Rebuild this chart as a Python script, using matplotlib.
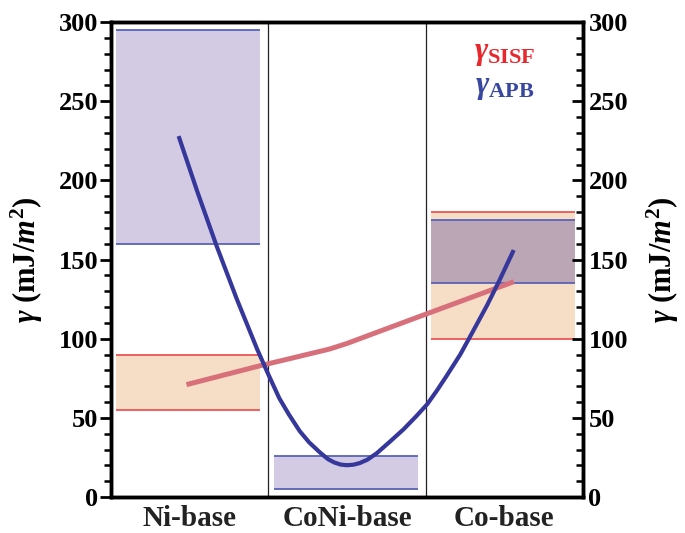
import matplotlib.pyplot as plt
from matplotlib.ticker import MultipleLocator

plt.rcParams['font.family'] = 'Liberation Serif'
plt.rcParams['mathtext.fontset'] = 'custom'
plt.rcParams['mathtext.rm'] = 'Liberation Serif:bold'
plt.rcParams['mathtext.it'] = 'Liberation Serif:italic:bold'
plt.rcParams['mathtext.bf'] = 'Liberation Serif:bold'

categories = ['Ni-base', 'CoNi-base', 'Co-base']

# energy ranges (mJ/m^2), None = not shown
sisf_low = [55, None, 100]
sisf_high = [90, None, 180]
apb_low = [160, 5, 135]
apb_high = [295, 26, 175]

# trend curves
apb_x = [0.43, 0.55, 0.67, 0.80, 0.93, 1.00, 1.07, 1.13, 1.20, 1.26,
         1.33, 1.38, 1.42, 1.46, 1.50, 1.54, 1.58, 1.63, 1.69, 1.77,
         1.86, 1.94, 2.01, 2.07, 2.13, 2.22, 2.30, 2.39, 2.47, 2.56]
apb_y = [228, 192.6, 159, 125, 93.2, 77.5, 62.4, 52.3, 41.6, 34.5,
         28, 23.9, 21.8, 20.5, 20.1, 20.4, 21.4, 23.6, 27.7, 34.7,
         42.8, 51, 58.6, 67, 76, 90, 104.5, 121, 137, 156]
sisf_x = [0.48, 0.95, 1.14, 1.39, 1.50, 1.77, 1.96, 2.56]
sisf_y = [71, 83, 87.5, 93.5, 97, 107, 114, 136]

red_line = '#ee5555'
red_fill = '#f6ddc6'
blue_line = '#5a62b8'
blue_fill = '#d3cbe4'
overlap_fill = '#bba6b6'

fig = plt.figure(figsize=(6.85, 5.33), dpi=100)
ax = fig.add_axes([0.162, 0.0675, 0.689, 0.891])

for i in range(3):
    x0, x1 = i + 0.035, i + 0.95
    has_sisf = sisf_low[i] is not None
    if has_sisf:
        ax.fill_between([x0, x1], sisf_low[i], sisf_high[i], color=red_fill, lw=0)
        ax.hlines([sisf_low[i], sisf_high[i]], x0, x1, color=red_line, lw=1.3)
    inside = has_sisf and sisf_low[i] <= apb_low[i] and apb_high[i] <= sisf_high[i]
    fill = overlap_fill if inside else blue_fill
    ax.fill_between([x0, x1], apb_low[i], apb_high[i], color=fill, lw=0)
    ax.hlines([apb_low[i], apb_high[i]], x0, x1, color=blue_line, lw=1.3)

for xd in [1, 2]:
    ax.axvline(xd, color='#222222', lw=0.9)

ax.plot(sisf_x, sisf_y, color='#d8707c', lw=3.6, solid_capstyle='butt',
        solid_joinstyle='round', zorder=3)
ax.plot(apb_x, apb_y, color='#36379a', lw=3.0, solid_capstyle='butt',
        solid_joinstyle='round', zorder=4)

ax.set_xlim(0, 3)
ax.set_ylim(0, 300)
ax.set_xticks([0.5, 1.5, 2.5])
ax.set_xticklabels(categories, fontsize=21, fontweight='bold', color='#222222')
ax.tick_params(axis='x', length=0, pad=6)
ax.yaxis.set_major_locator(MultipleLocator(50))
ax.yaxis.set_minor_locator(MultipleLocator(10))
ax.tick_params(axis='y', which='major', direction='out', length=8, width=2, labelsize=19, pad=1)
ax.tick_params(axis='y', which='minor', direction='out', length=5, width=1.8)
for s in ax.spines.values():
    s.set_linewidth(2.5)

ax2 = ax.twinx()
ax2.set_ylim(0, 300)
ax2.yaxis.set_major_locator(MultipleLocator(50))
ax2.yaxis.set_minor_locator(MultipleLocator(10))
ax2.tick_params(axis='y', which='major', direction='in', length=8, width=2, labelsize=19, pad=4)
ax2.tick_params(axis='y', which='minor', direction='in', length=5, width=1.8)
for s in ax2.spines.values():
    s.set_linewidth(2.5)

for a in (ax, ax2):
    for lab in a.get_yticklabels():
        lab.set_fontweight('bold')

label = r'$\gamma$ (mJ/$m^{2}$)'
ax.set_ylabel(label, fontsize=22, fontweight='bold', labelpad=10)
ax2.set_ylabel(label, fontsize=22, fontweight='bold', labelpad=12)

ax.text(2.5, 280, r'$\gamma_{\mathrm{SISF}}$', color='#e8262c', fontsize=23, ha='center', va='center')
ax.text(2.5, 259, r'$\gamma_{\mathrm{APB}}$', color='#3848a0', fontsize=23, ha='center', va='center')

fig.savefig('out.png', dpi=100)
